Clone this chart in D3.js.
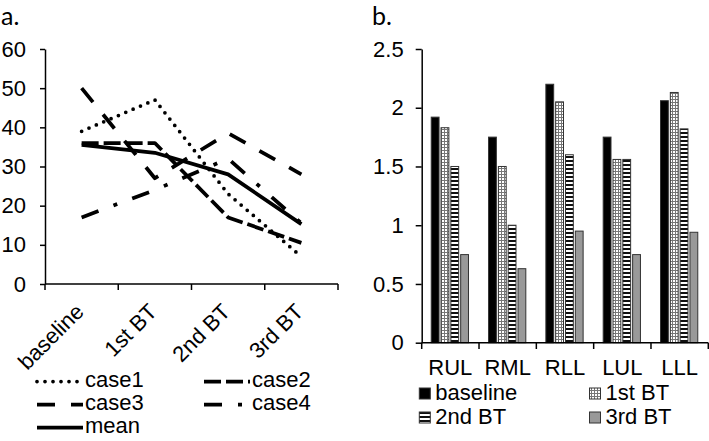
<!DOCTYPE html>
<html><head><meta charset="utf-8">
<script src="https://cdn.jsdelivr.net/npm/d3@7/dist/d3.min.js"></script>
<style>
html,body{margin:0;padding:0;background:#fff;}
svg{display:block;}
text{font-family:"Liberation Sans",Arial,sans-serif;fill:#000;}
</style></head>
<body>
<svg id="chart" width="709" height="441"></svg>
<script>
// ---- panel a data ----
const stages = ["baseline","1st BT","2nd BT","3rd BT"];
const case1 = [39, 47, 23, 7];
const case2 = [36, 36, 17, 10.5];
const case3 = [50, 27, 38.5, 28];
const case4 = [17, 24, 32, 15.5];
const meanVals = [35.5, 33.5, 28, 15.3];
const seriesNamesA = ["case1","case2","case3","case4","mean"];
const yTicksA = [0,10,20,30,40,50,60];

// ---- panel b data ----
const lobes = ["RUL","RML","RLL","LUL","LLL"];
const baselineB = [1.92, 1.75, 2.2, 1.75, 2.06];
const bt1B = [1.83, 1.5, 2.05, 1.56, 2.13];
const bt2B = [1.5, 1.0, 1.6, 1.56, 1.82];
const bt3B = [0.75, 0.63, 0.95, 0.75, 0.94];
const seriesNamesB = ["baseline","1st BT","2nd BT","3rd BT"];
const yTicksB = [0, 0.5, 1, 1.5, 2, 2.5];

const svg = d3.select("#chart");
const FS = 22;

// patterns
const defs = svg.append("defs");
const p1 = defs.append("pattern").attr("id","pDots").attr("patternUnits","userSpaceOnUse").attr("width",3).attr("height",3);
p1.append("rect").attr("width",3).attr("height",3).attr("fill","#fff");
p1.append("rect").attr("width",3).attr("height",1).attr("fill","#777");
p1.append("rect").attr("width",1).attr("height",3).attr("fill","#777");
const p2 = defs.append("pattern").attr("id","pStripes").attr("patternUnits","userSpaceOnUse").attr("width",4).attr("height",4);
p2.append("rect").attr("width",4).attr("height",4).attr("fill","#fff");
p2.append("rect").attr("width",4).attr("height",2).attr("fill","#111");

// ================= Panel a =================
const ax = d3.scaleBand().domain(stages).range([45, 338]);
const ay = d3.scaleLinear().domain([0, 60]).range([284, 49]);

svg.append("text").attr("x", 1).attr("y", 25).style("font-family","Lato, 'Liberation Sans', sans-serif").style("font-size","25px").text("a.");

const gA = svg.append("g");
const yAxA = d3.axisLeft(ay).tickValues(yTicksA).tickSize(5).tickSizeOuter(0).tickPadding(14);
gA.append("g").attr("transform","translate(45,0)").call(yAxA)
  .call(g => { g.attr("font-family", null); g.selectAll("text").style("font-size", FS+"px"); g.selectAll("line,path").attr("stroke","#000").attr("stroke-width",1.5); });

// x axis line
const xAxA = d3.axisBottom(ax).tickSize(0).tickFormat("");
gA.append("g").attr("transform","translate(0,284)").call(xAxA)
  .call(g => g.select("path").attr("stroke","#000").attr("stroke-width",1.5).attr("d", `M45,0H338`));
// boundary ticks
const boundsA = stages.map(s => ax(s)).concat([ax(stages[stages.length-1]) + ax.bandwidth()]);
gA.selectAll(".btick").data(boundsA).enter().append("line")
  .attr("x1", d => d).attr("x2", d => d).attr("y1", 284).attr("y2", 290)
  .attr("stroke","#000").attr("stroke-width",1.5);
// rotated category labels
gA.selectAll(".xl").data(stages).enter().append("text")
  .attr("transform", d => `translate(${ax(d)+ax.bandwidth()/2+3.5},313) rotate(-45)`)
  .attr("text-anchor","end").style("font-size", FS+"px").text(d => d);

const seriesA = [case1, case2, case3, case4, meanVals];
const styleA = {
  case1: {dash: "0 8", cap: "round"},
  case2: {dash: "17 5", cap: "butt"},
  case3: {dash: "18 16", cap: "butt"},
  case4: {dash: "18 16 4 16", cap: "butt"},
  mean:  {dash: null, cap: "butt"}
};
const line = d3.line().x((d,i) => ax(stages[i]) + ax.bandwidth()/2).y(d => ay(d));
seriesNamesA.forEach((name, k) => {
  const st = styleA[name];
  gA.append("path").attr("d", line(seriesA[k]))
    .attr("fill","none").attr("stroke","#000").attr("stroke-width", 3.75)
    .attr("stroke-linecap", st.cap).attr("stroke-linejoin","round")
    .attr("stroke-dasharray", st.dash);
});

// legend a
const legA = [
  {name:"case1", x:37, y:387},
  {name:"case2", x:204, y:387},
  {name:"case3", x:37, y:410},
  {name:"case4", x:204, y:410},
  {name:"mean",  x:37, y:433}
];
legA.forEach(l => {
  const st = styleA[l.name];
  svg.append("line").attr("x1", l.x).attr("x2", l.x + 46).attr("y1", l.y - 5.5).attr("y2", l.y - 5.5)
    .attr("stroke","#000").attr("stroke-width", 3.75)
    .attr("stroke-linecap", st.cap).attr("stroke-dasharray", st.dash);
  svg.append("text").attr("x", l.x + 48).attr("y", l.y).style("font-size", FS+"px").text(l.name);
});

// ================= Panel b =================
const bx = d3.scaleBand().domain(lobes).range([421.7, 708.3]);
const bx1 = d3.scaleBand().domain(seriesNamesB).range([0, bx.bandwidth()]).paddingInner(0).paddingOuter(0.92);
const by = d3.scaleLinear().domain([0, 2.5]).range([342.7, 49]);

svg.append("text").attr("x", 372).attr("y", 25).style("font-family","Lato, 'Liberation Sans', sans-serif").style("font-size","25px").text("b.");

const gB = svg.append("g");
const yAxB = d3.axisLeft(by).tickValues(yTicksB).tickSize(6).tickSizeOuter(0).tickPadding(12).tickFormat(d3.format("~g"));
gB.append("g").attr("transform","translate(421.7,0)").call(yAxB)
  .call(g => { g.attr("font-family", null); g.selectAll("text").style("font-size", FS+"px"); g.selectAll("line,path").attr("stroke","#000").attr("stroke-width",1.5); });

const fillsB = ["#000", "url(#pDots)", "url(#pStripes)", "#999"];
const seriesB = [baselineB, bt1B, bt2B, bt3B];
seriesNamesB.forEach((name, k) => {
  gB.selectAll(".bar"+k).data(seriesB[k]).enter().append("rect")
    .attr("x", (d,i) => bx(lobes[i]) + bx1(name) + 0.5)
    .attr("width", bx1.bandwidth() - 2)
    .attr("y", d => by(d))
    .attr("height", d => by(0) - by(d))
    .attr("fill", fillsB[k]).attr("stroke","#333").attr("stroke-width",1);
});

// x axis b
gB.append("line").attr("x1",421.7).attr("x2",708.3).attr("y1",342.7).attr("y2",342.7).attr("stroke","#000").attr("stroke-width",1.5);
const boundsB = lobes.map(s => bx(s)).concat([bx(lobes[lobes.length-1]) + bx.bandwidth()]);
gB.selectAll(".btick").data(boundsB).enter().append("line")
  .attr("x1", d => d).attr("x2", d => d).attr("y1", 342.7).attr("y2", 349)
  .attr("stroke","#000").attr("stroke-width",1.5);
gB.selectAll(".xl").data(lobes).enter().append("text")
  .attr("x", d => bx(d) + bx.bandwidth()/2).attr("y", 375)
  .attr("text-anchor","middle").style("font-size", FS+"px").text(d => d);

// legend b
const legB = [
  {k:0, x:419.3, y:399.5},
  {k:1, x:589.5, y:399.5},
  {k:2, x:419.3, y:423.5},
  {k:3, x:589.5, y:423.5}
];
legB.forEach(l => {
  svg.append("rect").attr("x", l.x).attr("y", l.y - 11.5).attr("width", 11).attr("height", 11)
    .attr("fill", fillsB[l.k]).attr("stroke","#333").attr("stroke-width",1);
  svg.append("text").attr("x", l.x + 16).attr("y", l.y).style("font-size", FS+"px").text(seriesNamesB[l.k]);
});
</script>
</body></html>
